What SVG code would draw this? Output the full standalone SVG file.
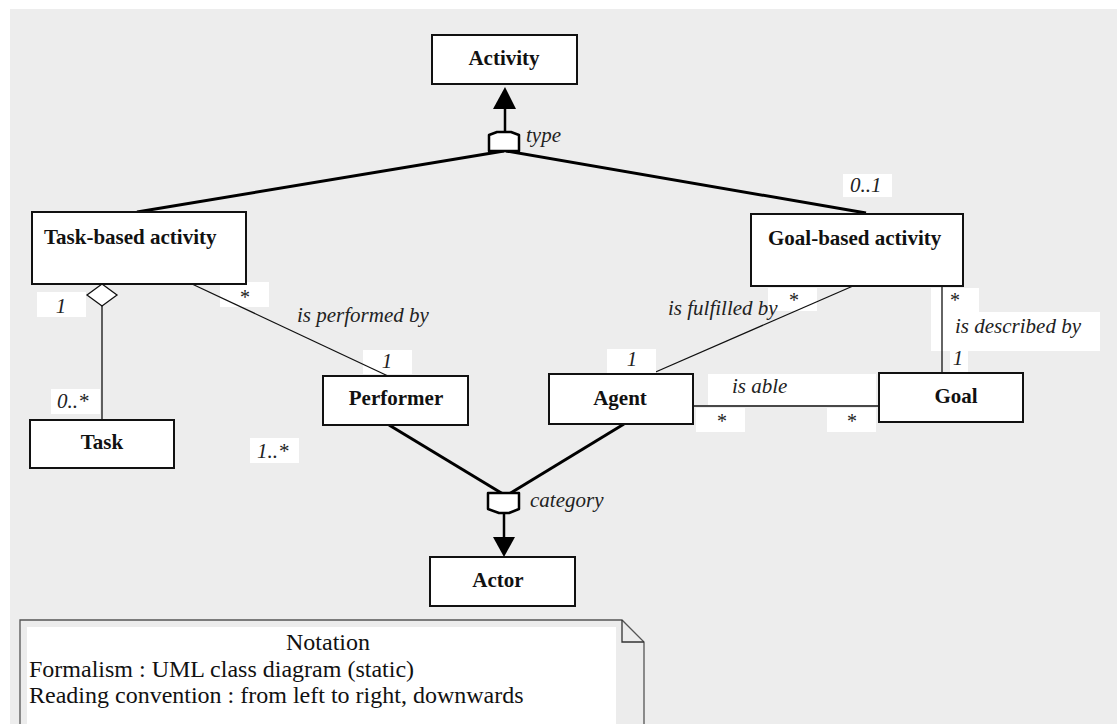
<svg xmlns="http://www.w3.org/2000/svg" width="1117" height="724" viewBox="0 0 1117 724">
<style>
.node rect{fill:#fff;stroke:#111;stroke-width:2}
.nt{font-family:"Liberation Serif","Times New Roman",serif;font-weight:bold;font-size:21px;fill:#111}
.lb{font-family:"Liberation Serif","Times New Roman",serif;font-style:italic;font-size:21px;fill:#222}
.st{font-family:"Liberation Serif","Times New Roman",serif;font-size:20px;fill:#222}
.wb{fill:#fff;stroke:none}
.thick{stroke:#000;stroke-width:3;fill:none}
.thin{stroke:#111;stroke-width:1.3;fill:none}
.note{font-family:"Liberation Serif","Times New Roman",serif;font-size:24px;fill:#111}
</style>
<rect x="0" y="0" width="1117" height="724" fill="#fff"/>
<rect x="10" y="9" width="1107" height="715" fill="#ededed"/>

<g id="label-boxes">
<rect class="wb" x="37" y="292" width="49" height="25"/>
<rect class="wb" x="51" y="389" width="49" height="25"/>
<rect class="wb" x="220" y="282" width="49" height="25"/>
<rect class="wb" x="363" y="350" width="49" height="24"/>
<rect class="wb" x="250" y="438" width="49" height="25"/>
<rect class="wb" x="843" y="174" width="49" height="23"/>
<rect class="wb" x="768" y="288" width="49" height="23"/>
<rect class="wb" x="931" y="288" width="48" height="24"/>
<rect class="wb" x="931" y="312" width="169" height="39"/>
<rect class="wb" x="950" y="351" width="18" height="21"/>
<rect class="wb" x="708" y="374" width="168" height="31"/>
<rect class="wb" x="696" y="408" width="49" height="24"/>
<rect class="wb" x="827" y="408" width="49" height="24"/>
</g>

<g id="connectors">
<line class="thick" x1="504" y1="151" x2="137" y2="212"/>
<line class="thick" x1="506" y1="151" x2="866" y2="213"/>
<line x1="505" y1="108" x2="505" y2="132" stroke="#000" stroke-width="2.5"/>
<polygon points="505,87 493,109 516,109" fill="#000"/>
<polygon points="489,135 497,132 511,132 519,135 519,151 489,151" fill="#fff" stroke="#000" stroke-width="2.5" stroke-linejoin="round"/>
<line class="thin" x1="102" y1="306" x2="102" y2="420"/>
<polygon points="102,284 117,295 102,306 87,295" fill="#fff" stroke="#111" stroke-width="1.3"/>
<line class="thin" x1="192" y1="284" x2="388" y2="376"/>
<line class="thin" x1="853" y1="286" x2="651" y2="374"/>
<line class="thin" x1="942" y1="286" x2="942" y2="373"/>
<line class="thin" x1="693" y1="406" x2="879" y2="406"/>
<line class="thick" x1="389" y1="425" x2="503" y2="494"/>
<line class="thick" x1="624" y1="424" x2="509" y2="494"/>
<polygon points="488,493 519,493 519,509 509,513 499,513 488,509" fill="#fff" stroke="#000" stroke-width="2.5" stroke-linejoin="round"/>
<line x1="504" y1="513" x2="504" y2="538" stroke="#000" stroke-width="2.5"/>
<polygon points="493,537 515,537 504,557" fill="#000"/>
</g>
<rect class="wb" x="607" y="349" width="49" height="24"/>

<g id="activity" class="node"><rect x="432" y="35" width="145" height="49"/><text class="nt" x="504" y="65" text-anchor="middle">Activity</text></g>
<g id="task-based-activity" class="node"><rect x="32" y="212" width="214" height="72"/><text class="nt" x="44" y="244">Task-based activity</text></g>
<g id="goal-based-activity" class="node"><rect x="751" y="214" width="212" height="72"/><text class="nt" x="768" y="245">Goal-based activity</text></g>
<g id="task" class="node"><rect x="30" y="420" width="144" height="48"/><text class="nt" x="102" y="449" text-anchor="middle">Task</text></g>
<g id="performer" class="node"><rect x="323" y="376" width="145" height="49"/><text class="nt" x="396" y="405" text-anchor="middle">Performer</text></g>
<g id="agent" class="node"><rect x="549" y="374" width="144" height="50"/><text class="nt" x="620" y="405" text-anchor="middle">Agent</text></g>
<g id="goal" class="node"><rect x="879" y="373" width="144" height="49"/><text class="nt" x="956" y="403" text-anchor="middle">Goal</text></g>
<g id="actor" class="node"><rect x="430" y="557" width="145" height="49"/><text class="nt" x="498" y="587" text-anchor="middle">Actor</text></g>

<g id="labels">
<text class="lb" x="526" y="142">type</text>
<text class="lb" x="530" y="507">category</text>
<text class="lb" x="297" y="322">is performed by</text>
<text class="lb" x="668" y="315">is fulfilled by</text>
<text class="lb" x="955" y="333">is described by</text>
<text class="lb" x="732" y="393">is able</text>
<text class="lb" x="61" y="313" text-anchor="middle">1</text>
<text class="lb" x="57" y="408">0..*</text>
<text class="st" x="245" y="304" text-anchor="middle">*</text>
<text class="lb" x="387" y="368" text-anchor="middle">1</text>
<text class="lb" x="257" y="458">1..*</text>
<text class="lb" x="850" y="192">0..1</text>
<text class="st" x="794" y="307" text-anchor="middle">*</text>
<text class="lb" x="632" y="366" text-anchor="middle">1</text>
<text class="st" x="955" y="307" text-anchor="middle">*</text>
<text class="lb" x="958" y="365" text-anchor="middle">1</text>
<text class="st" x="722" y="428" text-anchor="middle">*</text>
<text class="st" x="852" y="428" text-anchor="middle">*</text>
</g>

<g id="notation">
<path d="M20,724 V620 H622 L644,642 V724" fill="#ececec" stroke="#555" stroke-width="1.3"/>
<polyline points="622,620 622,642 644,642" fill="none" stroke="#333" stroke-width="1.3"/>
<rect x="27" y="627" width="589" height="97" fill="#fff"/>
<text class="note" x="328" y="650" text-anchor="middle">Notation</text>
<text class="note" x="29" y="677">Formalism : UML class diagram (static)</text>
<text class="note" x="29" y="703">Reading convention : from left to right, downwards</text>
</g>
</svg>
